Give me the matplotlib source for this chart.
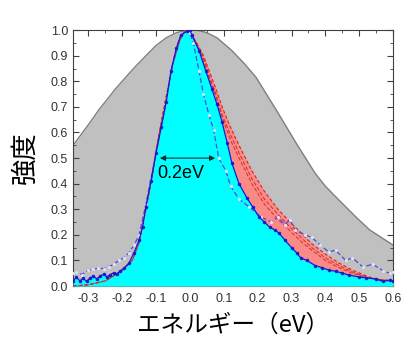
import matplotlib
matplotlib.use("Agg")
import matplotlib.pyplot as plt
from matplotlib.ticker import MultipleLocator

plt.rcParams['font.family'] = ['Noto Sans CJK JP', 'DejaVu Sans']

# broad gaussian (gray)
gauss_x = [-0.345, -0.3, -0.268, -0.22, -0.17, -0.13, -0.1, -0.07, -0.04, -0.01, 0.02, 0.05,
           0.08, 0.124, 0.16, 0.195, 0.254, 0.313, 0.37, 0.4, 0.44, 0.49, 0.53, 0.6]
gauss_y = [0.55, 0.63, 0.69, 0.77, 0.845, 0.9, 0.94, 0.97, 0.99, 1.0, 1.0, 0.99,
           0.97, 0.92, 0.87, 0.816, 0.69, 0.56, 0.44, 0.39, 0.336, 0.27, 0.22, 0.16]

# fit curve (red)
fit_x = [-0.345, -0.3, -0.25, -0.2, -0.17, -0.15, -0.13, -0.11, -0.1, -0.09, -0.07, -0.05,
         -0.03, -0.015, 0.0, 0.02, 0.04, 0.06, 0.077, 0.095, 0.12, 0.145, 0.183, 0.22, 0.26,
         0.292, 0.33, 0.36, 0.4, 0.44, 0.48, 0.53, 0.56, 0.6]
fit_y = [0.0, 0.005, 0.02, 0.06, 0.1, 0.17, 0.3, 0.44, 0.53, 0.6, 0.74, 0.87,
         0.96, 1.0, 0.99, 0.95, 0.9, 0.83, 0.77, 0.7, 0.62, 0.55, 0.45, 0.37, 0.3,
         0.255, 0.205, 0.165, 0.125, 0.09, 0.062, 0.035, 0.026, 0.02]
fit2_y = [0.0, 0.005, 0.02, 0.06, 0.1, 0.17, 0.3, 0.44, 0.53, 0.6, 0.74, 0.87,
          0.96, 1.0, 0.99, 0.95, 0.89, 0.81, 0.75, 0.67, 0.59, 0.52, 0.42, 0.34, 0.28,
          0.235, 0.187, 0.15, 0.11, 0.08, 0.055, 0.032, 0.025, 0.02]
fit3_y = [0.0, 0.005, 0.02, 0.06, 0.1, 0.17, 0.3, 0.44, 0.53, 0.6, 0.74, 0.87,
          0.96, 1.0, 0.99, 0.95, 0.88, 0.8, 0.74, 0.66, 0.57, 0.5, 0.4, 0.32, 0.26,
          0.22, 0.172, 0.14, 0.1, 0.072, 0.05, 0.03, 0.024, 0.02]

# measured spectrum (cyan fill)
meas_x = [-0.345, -0.335, -0.325, -0.315, -0.305, -0.295, -0.285, -0.275, -0.265, -0.255,
          -0.245, -0.235, -0.225, -0.215, -0.205, -0.195, -0.18, -0.165, -0.15, -0.14,
          -0.13, -0.115, -0.1, -0.085, -0.07, -0.056, -0.04, -0.027, -0.01, 0.0, 0.006,
          0.027, 0.047, 0.065, 0.08, 0.095, 0.11, 0.124, 0.145, 0.168, 0.185, 0.204,
          0.22, 0.235, 0.25, 0.263, 0.28, 0.3, 0.315, 0.327, 0.345, 0.37, 0.39, 0.41,
          0.43, 0.45, 0.47, 0.5, 0.52, 0.55, 0.57, 0.59, 0.6]
meas_y = [0.02, 0.035, 0.02, 0.03, 0.018, 0.032, 0.038, 0.028, 0.04, 0.046,
          0.036, 0.045, 0.052, 0.048, 0.06, 0.07, 0.09, 0.13, 0.18, 0.23,
          0.31, 0.41, 0.52, 0.62, 0.72, 0.84, 0.93, 0.98, 0.995, 1.0, 0.98,
          0.92, 0.84, 0.77, 0.71, 0.64, 0.56, 0.48, 0.4, 0.345, 0.31, 0.27,
          0.25, 0.23, 0.22, 0.207, 0.18, 0.15, 0.13, 0.11, 0.1, 0.08, 0.072, 0.062,
          0.058, 0.05, 0.043, 0.035, 0.032, 0.028, 0.018, 0.023, 0.02]

# second spectrum (blue dashed)
ref_x = [-0.345, -0.336, -0.32, -0.3, -0.285, -0.27, -0.255, -0.24, -0.225, -0.21, -0.195,
         -0.18, -0.165, -0.15, -0.13, -0.1, -0.085, -0.07, -0.056, -0.04, -0.027, -0.01,
         0.0, 0.01, 0.027, 0.04, 0.056, 0.07, 0.085, 0.106, 0.12, 0.145, 0.174, 0.21,
         0.24, 0.26, 0.28, 0.295, 0.31, 0.34, 0.36, 0.385, 0.41, 0.43, 0.46, 0.48,
         0.51, 0.54, 0.57, 0.59, 0.6]
ref_y = [0.05, 0.055, 0.045, 0.062, 0.065, 0.07, 0.068, 0.075, 0.085, 0.1, 0.11,
         0.13, 0.16, 0.2, 0.32, 0.52, 0.62, 0.72, 0.84, 0.93, 0.98, 0.995,
         0.99, 0.95, 0.84, 0.75, 0.67, 0.61, 0.5, 0.45, 0.39, 0.34, 0.31, 0.27,
         0.25, 0.27, 0.24, 0.26, 0.22, 0.2, 0.19, 0.16, 0.133, 0.14, 0.1, 0.11,
         0.075, 0.085, 0.06, 0.05, 0.055]

fig = plt.figure(figsize=(4.2, 3.63), dpi=100)
ax = fig.add_axes([0.174, 0.212, 0.762, 0.705])

ax.fill_between(gauss_x, gauss_y, color='#c0c0c0', linewidth=0, zorder=1)
ax.plot(gauss_x, gauss_y, color='#7f7f7f', lw=1.0, zorder=2)
ax.fill_between(fit_x, fit_y, color='#fa8a86', linewidth=0, zorder=3)
ax.fill_between(meas_x, meas_y, color='#00ffff', linewidth=0, zorder=4)
ax.plot(fit_x, fit_y, color='#e02020', lw=0.8, ls=(0, (3, 2)), zorder=5)
ax.plot(fit_x, fit2_y, color='#d03030', lw=0.7, ls=(0, (4, 2)), zorder=5)
ax.plot(fit_x, fit3_y, color='#d03030', lw=0.7, ls=(0, (4, 2)), zorder=5)
ax.plot(ref_x, ref_y, color='#4a4ae0', lw=0.9, ls=(0, (4, 2)), marker='.', ms=2.5,
        mfc='#e0e0ff', mec='#e0e0ff', zorder=6)
ax.plot(meas_x, meas_y, color='#1a1ad0', lw=0.9, marker='.', ms=3, zorder=7)

ax.annotate('', xy=(-0.097, 0.5), xytext=(0.083, 0.5),
            arrowprops=dict(arrowstyle='<|-|>', color='#103030', lw=0.8,
                            mutation_scale=8), zorder=8)
ax.text(-0.097, 0.44, '0.2eV', fontsize=13, color='black', va='center', ha='left',
        family=['Liberation Sans', 'DejaVu Sans'], zorder=8)

ax.set_xlim(-0.345, 0.6)
ax.set_ylim(0, 1.0)
ax.xaxis.set_major_locator(MultipleLocator(0.1))
ax.xaxis.set_minor_locator(MultipleLocator(0.05))
ax.yaxis.set_major_locator(MultipleLocator(0.1))
ax.yaxis.set_minor_locator(MultipleLocator(0.05))
ax.tick_params(which='both', direction='in', top=True, right=True, colors='#404040',
               labelsize=9, labelcolor='#333333')
ax.tick_params(which='major', length=4, width=0.8)
ax.tick_params(which='minor', length=2, width=0.6)
ax.tick_params(axis='x', pad=5)
for s in ax.spines.values():
    s.set_color('#404040')
    s.set_linewidth(0.8)

ax.set_xticklabels([f'{v:.1f}' for v in ax.get_xticks()])
ax.set_xlim(-0.345, 0.6)
for lab in ax.get_xticklabels() + ax.get_yticklabels():
    lab.set_family(['Liberation Sans', 'DejaVu Sans'])

ax.set_xlabel('エネルギー（eV）', fontsize=17, labelpad=6)
ax.set_ylabel('強度', fontsize=19, labelpad=9)

fig.savefig('out.png', dpi=100)
